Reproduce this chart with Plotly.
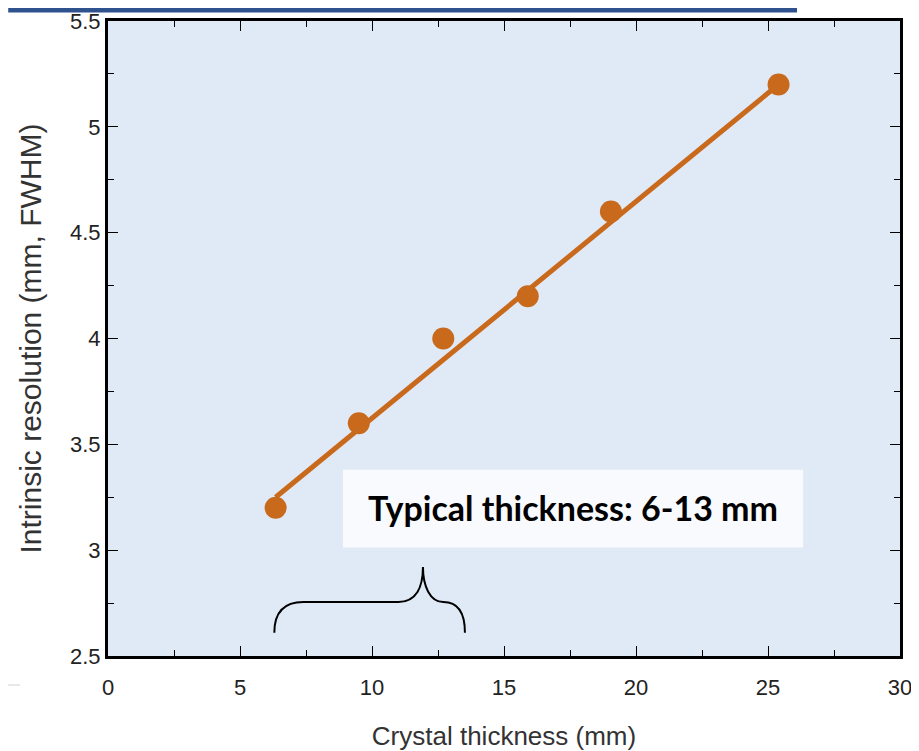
import plotly.graph_objects as go

# measured points
thickness = [6.35, 9.5, 12.7, 15.9, 19.05, 25.4]
resolution = [3.2, 3.6, 4.0, 4.2, 4.6, 5.2]

# fitted line end points
fit_x = [6.35, 25.4]
fit_y = [3.25, 5.2]

orange = "#C8691C"

fig = go.Figure()

fig.add_trace(go.Scatter(
    x=fit_x, y=fit_y, mode="lines",
    line=dict(color=orange, width=5),
    showlegend=False, hoverinfo="skip"
))
fig.add_trace(go.Scatter(
    x=thickness, y=resolution, mode="markers",
    marker=dict(color=orange, size=22),
    showlegend=False
))

# text box behind the label
fig.add_shape(type="rect", x0=8.9, x1=26.33, y0=3.013, y1=3.38,
              xref="x", yref="y", fillcolor="#F8FAFD", line=dict(width=0), layer="below")
fig.add_annotation(x=17.6, y=3.2, xref="x", yref="y", showarrow=False,
                   text="<b>Typical thickness: 6-13 mm</b>",
                   font=dict(family="Lato, Open Sans, sans-serif", size=34, color="black"))

# curly brace marking the typical range
brace = ("M 6.3,2.61 C 6.3,2.70 6.6,2.755 7.4,2.755 L 11.0,2.755 "
         "C 11.7,2.755 11.93,2.83 11.93,2.92 "
         "C 11.93,2.83 12.2,2.755 12.7,2.755 "
         "C 13.3,2.755 13.52,2.70 13.52,2.61")
fig.add_shape(type="path", path=brace, xref="x", yref="y",
              line=dict(color="black", width=2))

# slide decorations
fig.add_shape(type="rect", xref="paper", yref="paper",
              x0=-0.126, x1=0.87, y0=1.0135, y1=1.0205,
              fillcolor="#2F528F", line=dict(width=0))
fig.add_shape(type="line", xref="paper", yref="paper",
              x0=-0.126, x1=-0.111, y0=-0.0457, y1=-0.0457,
              line=dict(color="#D0D0D0", width=1))

axis_common = dict(
    showline=True, linewidth=3, linecolor="black", mirror="allticks",
    ticks="inside", ticklen=10, tickwidth=1, tickcolor="black",
    showgrid=False, zeroline=False, automargin=False,
    ticklabeloverflow="allow",
    tickfont=dict(family="Liberation Sans, Arial", size=22, color="#222"),
)

fig.update_xaxes(
    range=[0, 30], dtick=5, tick0=0, ticklabelstandoff=10,
    minor=dict(ticks="inside", dtick=2.5, ticklen=6, tickcolor="black"),
    title=dict(text="Crystal thickness (mm)", standoff=28,
               font=dict(family="Liberation Sans, Arial", size=26, color="#333")),
    **axis_common
)
fig.update_yaxes(
    range=[2.5, 5.5], dtick=0.5, tick0=2.5,
    minor=dict(ticks="inside", dtick=0.25, ticklen=6, tickcolor="black"),
    title=dict(text="Intrinsic resolution (mm, FWHM)", standoff=20,
               font=dict(family="Liberation Sans, Arial", size=30, color="#333")),
    **axis_common
)

fig.update_layout(
    width=911, height=743,
    margin=dict(l=100, r=19, t=13, b=95),
    plot_bgcolor="#E0EAF6", paper_bgcolor="white",
)

fig.write_html("out.html")
